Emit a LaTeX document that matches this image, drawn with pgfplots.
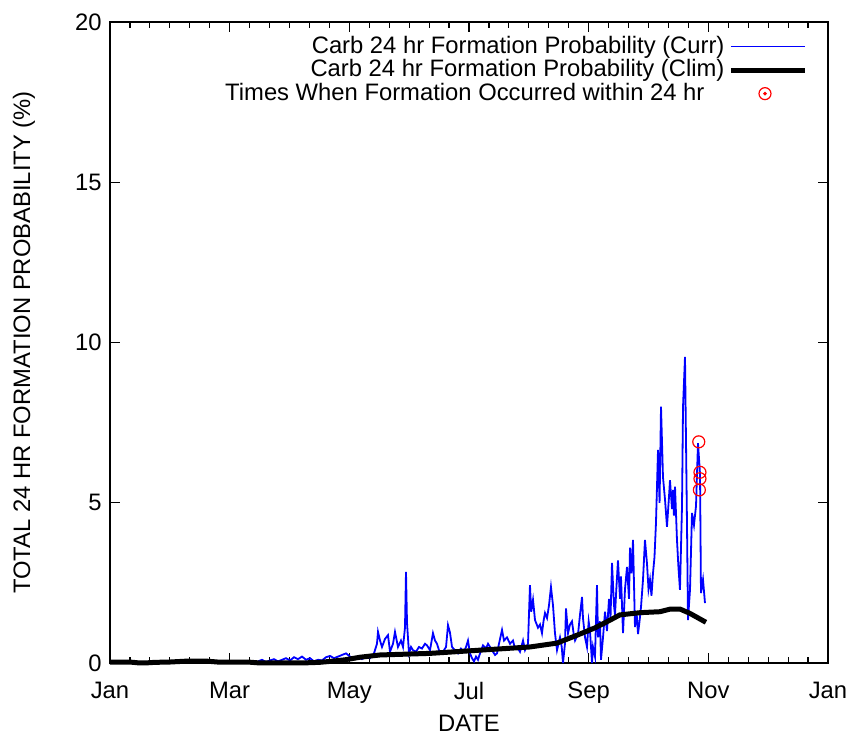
\documentclass[border=0pt]{standalone}
\usepackage{pgfplots}
\pgfplotsset{compat=1.18}
\usepackage{fontspec}
\setmainfont{Liberation Sans}
\newcommand{\fs}{\fontsize{11.9}{14}\selectfont}
\begin{document}
\fs
\begin{tikzpicture}
\begin{axis}[
  scale only axis, width=359pt, height=320.5pt,
  xmin=0, xmax=12, ymin=0, ymax=20,
  xtick={0,2,4,6,8,10,12}, xticklabels={Jan,Mar,May,Jul,Sep,Nov,Jan},
  minor x tick num=5,
  ytick={0,5,10,15,20},
  tick align=inside, major tick length=5pt, minor tick length=3pt,
  tick style={black, line width=0.6pt},
  axis line style={line width=0.75pt},
  /pgf/number format/assume math mode=true,
  tick label style={font=\fs},
  xticklabel style={yshift=-5.5pt},
  xlabel={DATE}, ylabel={TOTAL 24 HR FORMATION PROBABILITY (\%)},
  label style={font=\fs},
  xlabel style={at={(axis description cs:0.5,-0.094)}, anchor=center},
  ylabel style={at={(axis description cs:-0.12,0.5)}, anchor=center},
  legend plot pos=right, legend cell align=right,
  legend style={at={(0.972,0.985)}, anchor=north east, draw=none, fill=none,
    font=\fs, row sep=-2.6pt, inner sep=0pt},
  clip=false,
]
\addplot[color=blue, line width=0.9pt,
  legend image code/.code={\draw[blue, line width=0.9pt] (0pt,0pt) -- (37pt,0pt);}] coordinates {
(2.474,0.05) (2.540,0.10) (2.607,0.03) (2.674,0.08) (2.741,0.12) (2.808,0.05)
(2.875,0.10) (2.941,0.15) (3.008,0.08) (3.075,0.18) (3.142,0.12) (3.209,0.20)
(3.276,0.10) (3.343,0.15) (3.409,0.05) (3.476,0.10) (3.543,0.08) (3.610,0.18)
(3.677,0.22) (3.744,0.15) (3.811,0.20) (3.877,0.25) (3.944,0.30) (4.011,0.20)
(4.078,0.15) (4.145,0.18) (4.212,0.12) (4.279,0.20) (4.345,0.15) (4.412,0.30)
(4.462,0.60) (4.479,0.97) (4.513,0.70) (4.546,0.50) (4.596,0.75) (4.646,0.87)
(4.680,0.35) (4.730,0.60) (4.763,0.97) (4.813,0.50) (4.863,0.70) (4.897,0.50)
(4.930,1.10) (4.947,2.84) (4.964,1.25) (4.997,0.30) (5.031,0.50) (5.064,0.40)
(5.114,0.35) (5.164,0.50) (5.214,0.45) (5.265,0.60) (5.298,0.55) (5.348,0.40)
(5.398,0.93) (5.432,0.70) (5.465,0.60) (5.515,0.30) (5.565,0.35) (5.616,0.50)
(5.649,1.18) (5.682,0.95) (5.716,0.50) (5.766,0.40) (5.816,0.30) (5.866,0.45)
(5.916,0.35) (5.950,0.50) (5.983,0.70) (6.017,0.30) (6.050,0.15) (6.084,0.05)
(6.117,0.20) (6.150,0.10) (6.184,0.30) (6.234,0.55) (6.284,0.45) (6.318,0.60)
(6.351,0.50) (6.401,0.35) (6.435,0.25) (6.468,0.30) (6.501,0.60) (6.552,1.03)
(6.585,0.70) (6.635,0.80) (6.685,0.60) (6.735,0.70) (6.769,0.45) (6.802,0.50)
(6.852,0.35) (6.903,0.70) (6.936,0.40) (6.986,0.60) (7.019,2.43) (7.040,1.60)
(7.070,1.97) (7.103,1.34) (7.153,1.10) (7.187,1.20) (7.220,0.93) (7.245,1.30)
(7.270,1.56) (7.304,1.40) (7.337,1.80) (7.370,2.37) (7.404,1.80) (7.437,0.93)
(7.471,0.40) (7.521,0.80) (7.550,0.50) (7.571,0.00) (7.604,0.60) (7.621,1.70)
(7.655,0.93) (7.688,1.20) (7.721,1.30) (7.750,0.90) (7.772,0.70) (7.822,0.90)
(7.855,1.50) (7.889,2.06) (7.905,1.40) (7.939,0.80) (7.972,0.50) (8.000,1.30)
(8.022,1.00) (8.056,0.00) (8.072,0.50) (8.106,0.20) (8.139,2.43) (8.156,0.80)
(8.189,1.30) (8.206,0.10) (8.240,0.80) (8.273,1.60) (8.306,1.00) (8.340,2.00)
(8.365,1.40) (8.390,3.12) (8.423,1.80) (8.440,1.50) (8.465,2.40) (8.490,3.20)
(8.524,2.00) (8.540,2.70) (8.574,0.93) (8.607,2.30) (8.641,3.00) (8.674,2.00)
(8.691,3.60) (8.716,2.80) (8.741,3.84) (8.774,1.12) (8.800,1.60) (8.825,0.90)
(8.850,1.30) (8.875,1.75) (8.908,2.60) (8.941,3.84) (8.975,3.10) (9.000,2.30)
(9.025,2.60) (9.050,2.10) (9.075,2.80) (9.100,3.30) (9.125,4.37) (9.159,6.65)
(9.185,5.00) (9.209,8.00) (9.242,5.80) (9.276,5.10) (9.309,4.25) (9.343,5.20)
(9.359,5.70) (9.393,4.80) (9.409,5.40) (9.425,4.60) (9.443,5.50) (9.476,3.84)
(9.500,3.00) (9.526,2.28) (9.560,4.90) (9.577,8.00) (9.610,9.55) (9.643,4.40)
(9.660,1.34) (9.694,2.30) (9.727,4.68) (9.760,4.30) (9.794,4.90) (9.827,6.86)
(9.861,5.90) (9.877,2.18) (9.911,2.60) (9.944,1.87)
};
\addlegendentry{Carb 24 hr Formation Probability (Curr)}
\addplot[color=black, line width=2.5pt,
  legend image code/.code={\draw[black, line width=2.5pt] (0pt,0pt) -- (37pt,0pt);}] coordinates {
(0,0.03) (0.33,0.03) (0.50,0.00) (0.58,0.00) (0.75,0.02) (1.00,0.03)
(1.30,0.06) (1.60,0.06) (1.80,0.03) (2.30,0.03) (2.51,0.00) (3.20,0.00)
(3.50,0.02) (3.68,0.05) (3.93,0.10) (4.18,0.18) (4.51,0.25) (5.35,0.30)
(6.18,0.40) (7.02,0.50) (7.47,0.62) (7.81,0.87) (8.11,1.10) (8.36,1.34)
(8.52,1.50) (8.86,1.57) (9.19,1.60) (9.36,1.68) (9.53,1.68) (9.69,1.55)
(9.96,1.27)
};
\addlegendentry{Carb 24 hr Formation Probability (Clim)}
\addplot[only marks, mark=o, mark size=3pt, color=red, line width=0.6pt,
  legend image code/.code={\draw[red, line width=0.6pt] (17pt,0pt) circle[radius=3pt]; \fill[red] (17pt,0pt) circle[radius=0.6pt];}] coordinates {
(9.84,6.90) (9.86,5.95) (9.86,5.75) (9.85,5.40)
};
\addlegendentry{Times When Formation Occurred within 24 hr\hspace*{10pt}}
\end{axis}
\pgfresetboundingbox
\path ([shift={(-55pt,-36.5pt)}]current axis.south west) rectangle ([shift={(11.5pt,11pt)}]current axis.north east);
\end{tikzpicture}
\end{document}
